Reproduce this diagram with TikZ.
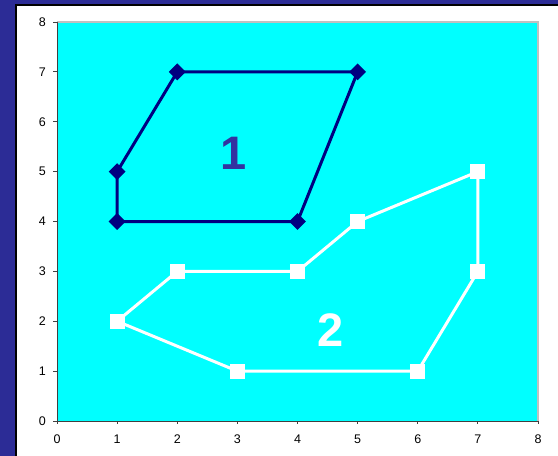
\documentclass[tikz,border=0pt]{standalone}
\usepackage{fontspec}
\setmainfont{Liberation Sans}
\usetikzlibrary{shapes.geometric}
\definecolor{bgblue}{RGB}{44,44,150}
\definecolor{plotcyan}{RGB}{0,255,255}
\definecolor{navy}{RGB}{0,0,128}
\definecolor{labblue}{RGB}{51,51,160}
\definecolor{axisgray}{RGB}{64,64,64}
\definecolor{bordergray}{RGB}{192,192,192}
\tikzset{
  ticklab/.style={font=\fontsize{12.5}{12.5}\selectfont, text=black, inner sep=0pt},
  dmark/.style={diamond, fill=navy, minimum width=17pt, minimum height=17pt, inner sep=0pt},
  smark/.style={rectangle, fill=white, minimum width=15pt, minimum height=15pt, inner sep=0pt},
  navyline/.style={draw=navy, line width=3pt, line join=round},
  whiteline/.style={draw=white, line width=3pt, line join=round},
  biglab/.style={font=\bfseries\fontsize{47}{47}\selectfont, inner sep=0pt},
}
\begin{document}
\begin{tikzpicture}[x=1pt,y=1pt]
\useasboundingbox (0,0) rectangle (558,-456);
\fill[bgblue] (0,0) rectangle (558,-456);
\fill[white] (16,-5) rectangle (558,-456);
\draw[black, line width=1.5pt] (16,-456) -- (16,-5) -- (558,-5);
\begin{scope}[shift={(57,-421)}, x=60.125pt, y=49.875pt]
  \fill[plotcyan] (0,0) rectangle (8,8);
  \draw[bordergray, line width=1.2pt] (0,8) -- (8,8) -- (8,0);
  \draw[axisgray, line width=1pt] (0,8) -- (0,0) -- (8,0);
  \foreach \i in {0,...,8} {
    \draw[axisgray, line width=1pt] (0,\i) -- ++(-4pt,0);
    \node[ticklab, anchor=east] (yl\i) at ([xshift=-11pt]0,\i) {\i};
    \draw[axisgray, line width=1pt] (\i,0) -- ++(0,-3pt);
    \node[ticklab, anchor=north] (xl\i) at ([yshift=-14pt]\i,0) {\i};
  }
  % series 2 (white squares)
  \coordinate (b1) at (1,2);
  \coordinate (b2) at (2,3);
  \coordinate (b3) at (4,3);
  \coordinate (b4) at (5,4);
  \coordinate (b5) at (7,5);
  \coordinate (b6) at (7,3);
  \coordinate (b7) at (6,1);
  \coordinate (b8) at (3,1);
  \draw[whiteline] (b1) -- (b2) -- (b3) -- (b4) -- (b5) -- (b6) -- (b7) -- (b8) -- (b1);
  \foreach \n in {1,...,8} { \node[smark] (sb\n) at (b\n) {}; }
  % series 1 (navy diamonds)
  \coordinate (a1) at (1,4);
  \coordinate (a2) at (1,5);
  \coordinate (a3) at (2,7);
  \coordinate (a4) at (5,7);
  \coordinate (a5) at (4,4);
  \draw[navyline] (a1) -- (a2) -- (a3) -- (a4) -- (a5) -- (a1);
  \foreach \n in {1,...,5} { \node[dmark] (da\n) at (a\n) {}; }
  \node[biglab, text=labblue] (lab1) at (2.93,5.37) {1};
  \node[biglab, text=white] (lab2) at (4.55,1.83) {2};
\end{scope}
\end{tikzpicture}
\end{document}
